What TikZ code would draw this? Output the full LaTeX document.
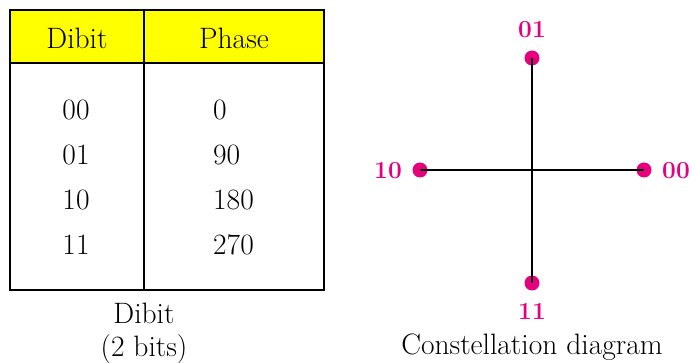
\documentclass[tikz,border=0pt]{standalone}
\definecolor{hdr}{RGB}{255,255,0}
\definecolor{pt}{RGB}{230,0,126}
\begin{document}
\begin{tikzpicture}[x=1pt,y=-1pt,
  cell/.style={font=\fontsize{29.5}{33}\selectfont, inner sep=0pt},
  lbl/.style={font=\bfseries\fontsize{24.5}{28}\selectfont, text=pt, inner sep=0pt},
  dotp/.style={circle, fill=pt, minimum size=15pt, inner sep=0pt},
  axis/.style={line width=1.6pt}]
\useasboundingbox (0,0) rectangle (694,363);
% table
\fill[hdr] (10,10) rectangle (324,63);
\draw[line width=1.4pt] (10,10) rectangle (324,290);
\draw[line width=1.4pt] (10,63) -- (324,63);
\draw[line width=1.4pt] (144,10) -- (144,290);
\node[cell] (h1) at (77,38) {Dibit};
\node[cell] (h2) at (234,38) {Phase};
\foreach \d/\p/\y [count=\i] in {00/0/110, 01/90/155, 10/180/200, 11/270/245}{
  \node[cell] (d\i) at (76,\y) {\d};
  \node[cell, anchor=west] (p\i) at (213,\y) {\p};
}
\node[cell, align=center] (cap1) at (144,333) {Dibit\\(2 bits)};
% constellation
\node[dotp] (n01) at (532,58) {};
\node[dotp] (n11) at (532,283) {};
\node[dotp] (n10) at (420,170) {};
\node[dotp] (n00) at (644,170) {};
\draw[axis] (n01.center) -- (n11.center);
\draw[axis] (n10.center) -- (n00.center);
\node[lbl] (l01) at (532,30) {01};
\node[lbl] (l11) at (532,311) {11};
\node[lbl] (l10) at (388,171) {10};
\node[lbl] (l00) at (676,171) {00};
\node[cell] (cap2) at (532,347) {Constellation diagram};
\end{tikzpicture}
\end{document}
